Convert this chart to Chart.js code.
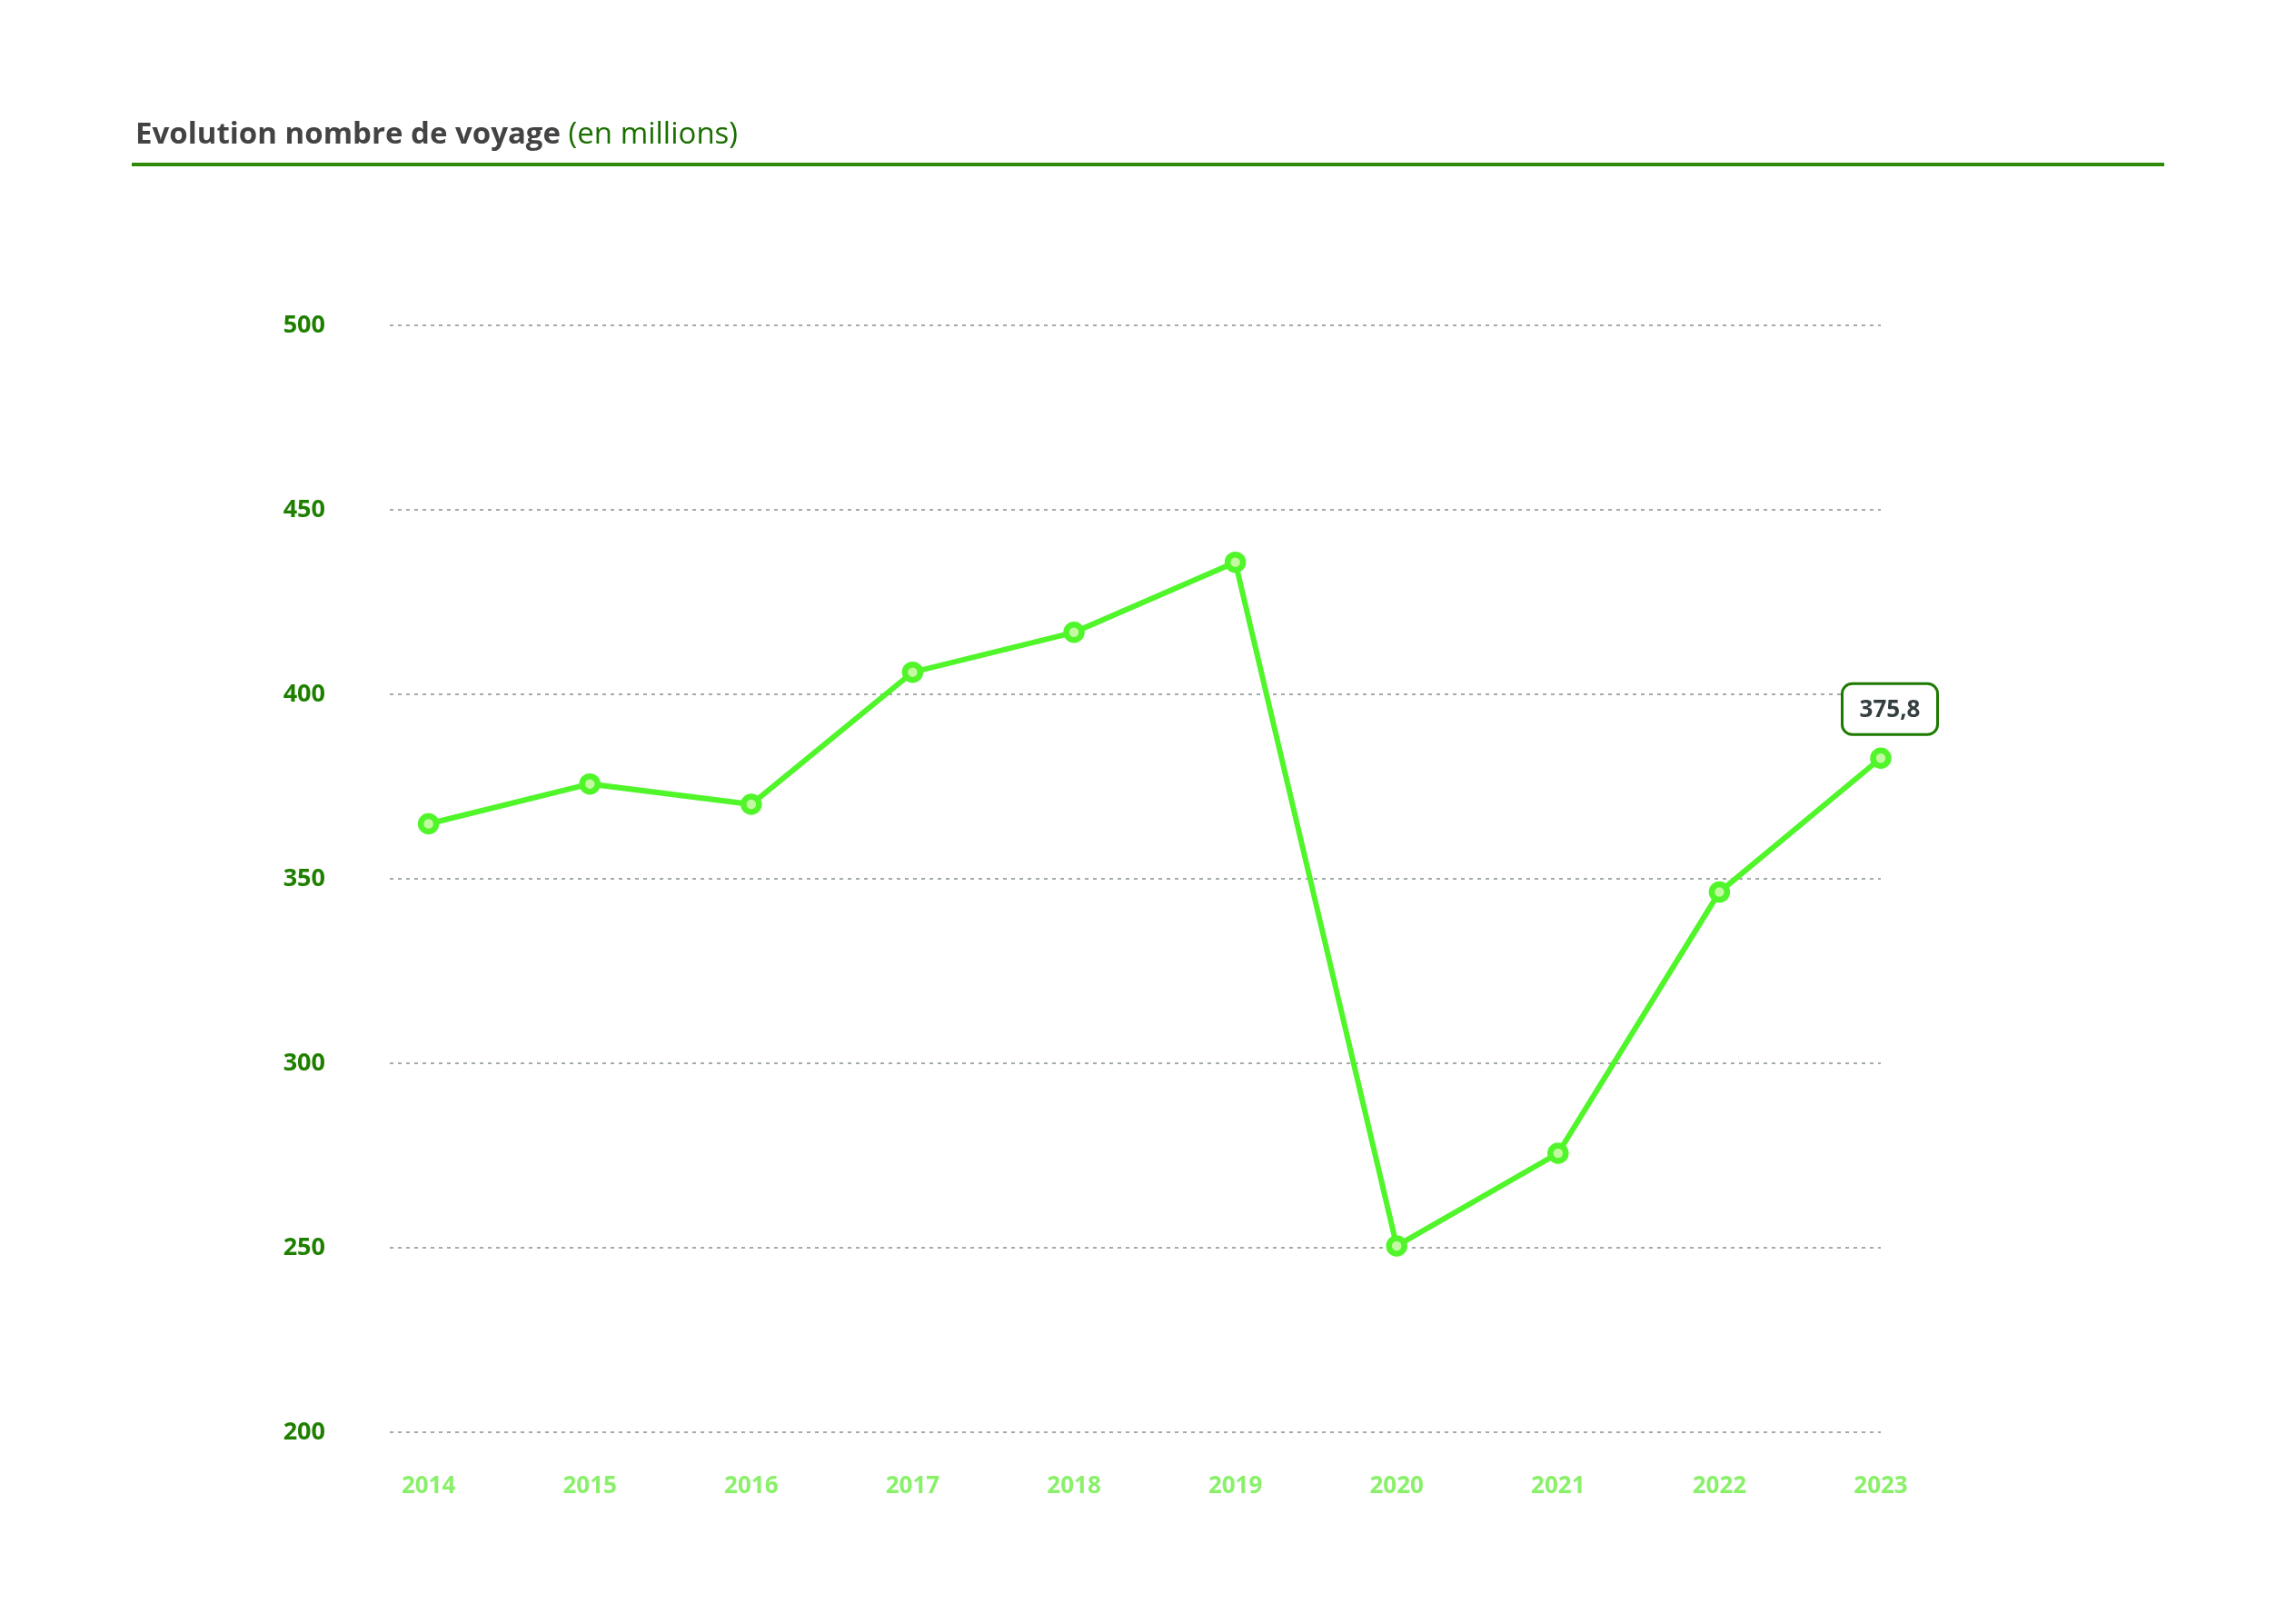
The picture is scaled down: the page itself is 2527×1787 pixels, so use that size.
<!DOCTYPE html>
<html>
<head>
<meta charset="utf-8">
<script src="https://cdn.jsdelivr.net/npm/chart.js@4.4.1/dist/chart.umd.min.js"></script>
<style>
  html, body { margin: 0; padding: 0; background: #ffffff; }
  #wrap { position: relative; width: 2527px; height: 1787px; }
  #title { position: absolute; left: 149px; top: 123px; font-family: "Open Sans", sans-serif; font-size: 33px; white-space: nowrap; }
  #title b { color: #434343; font-weight: 700; }
  #title span { color: #1b6e00; font-weight: 400; }
  #rule { position: absolute; left: 145px; top: 179px; width: 2237px; height: 4px; background: #2f8a0a; }
  canvas { position: absolute; left: 0; top: 0; }
</style>
</head>
<body>
<div id="wrap">
  <canvas id="c" width="2527" height="1787"></canvas>
  <div id="title"><b>Evolution nombre de voyage</b> <span>(en millions)</span></div>
  <div id="rule"></div>
</div>
<script>
// ---- data ----
const years = [2014, 2015, 2016, 2017, 2018, 2019, 2020, 2021, 2022, 2023];
const voyages = [364.9, 375.7, 370.2, 406.0, 416.8, 435.8, 250.5, 275.6, 346.4, 382.7];
const yTicks = [200, 250, 300, 350, 400, 450, 500];
const highlightIndex = 9;
const highlightText = '375,8';

const highlightPlugin = {
  id: 'highlight',
  afterDatasetsDraw(chart) {
    const meta = chart.getDatasetMeta(0);
    const pt = meta.data[highlightIndex];
    if (!pt) return;
    const ctx = chart.ctx;
    const w = 105, h = 56, r = 11;
    const cx = pt.x + 10, cy = pt.y - 54;
    const x = cx - w / 2, y = cy - h / 2;
    ctx.save();
    ctx.beginPath();
    ctx.moveTo(x + r, y);
    ctx.arcTo(x + w, y, x + w, y + h, r);
    ctx.arcTo(x + w, y + h, x, y + h, r);
    ctx.arcTo(x, y + h, x, y, r);
    ctx.arcTo(x, y, x + w, y, r);
    ctx.closePath();
    ctx.fillStyle = '#ffffff';
    ctx.fill();
    ctx.lineWidth = 3;
    ctx.strokeStyle = '#1c7a00';
    ctx.stroke();
    ctx.fillStyle = '#353f42';
    ctx.font = '700 26px "Open Sans", sans-serif';
    ctx.textAlign = 'center';
    ctx.textBaseline = 'middle';
    ctx.fillText(highlightText, cx, cy + 1);
    ctx.restore();
  }
};

new Chart(document.getElementById('c'), {
  type: 'line',
  data: {
    datasets: [{
      data: years.map((yr, i) => ({ x: yr, y: voyages[i] })),
      borderColor: '#50f52a',
      borderWidth: 6,
      pointRadius: 8.5,
      pointBorderWidth: 6.5,
      pointBackgroundColor: '#c4f9a2',
      pointBorderColor: '#50f52a',
      tension: 0,
      clip: false
    }]
  },
  options: {
    responsive: false,
    animation: false,
    layout: { padding: { left: 0, top: 358, right: 457, bottom: 0 } },
    plugins: { legend: { display: false }, tooltip: { enabled: false } },
    scales: {
      x: {
        type: 'linear',
        min: 2013.76,
        max: 2023,
        grid: { display: false, drawTicks: false },
        border: { display: false },
        afterBuildTicks(scale) { scale.ticks = years.map(v => ({ value: v })); },
        afterFit(scale) { scale.height = 211; },
        ticks: {
          padding: 44,
          color: '#8af06a',
          font: { family: '"Open Sans", sans-serif', size: 26, weight: '700' },
          callback: v => String(v),
          maxRotation: 0,
          autoSkip: false
        }
      },
      y: {
        min: 200,
        max: 500,
        afterBuildTicks(scale) { scale.ticks = yTicks.map(v => ({ value: v })); },
        afterFit(scale) { scale.width = 429; },
        grid: { color: '#a3abab', lineWidth: 2, drawTicks: false },
        border: { display: false, dash: [4, 5] },
        ticks: {
          padding: 71,
          color: '#1f8000',
          font: { family: '"Open Sans", sans-serif', size: 27, weight: '700' }
        }
      }
    }
  },
  plugins: [highlightPlugin]
});
</script>
</body>
</html>
